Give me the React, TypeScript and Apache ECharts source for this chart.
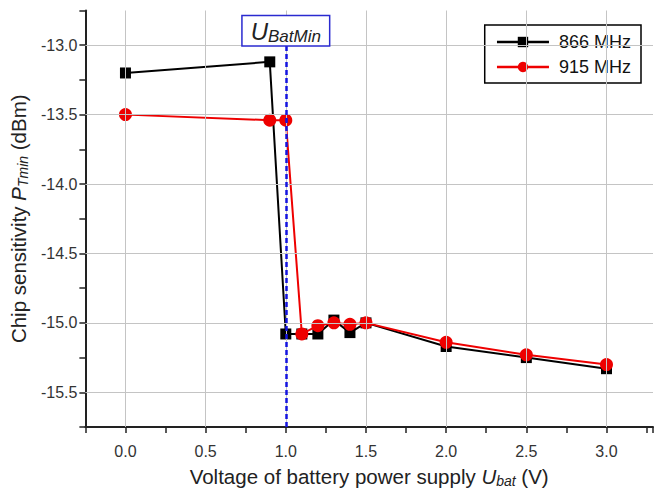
import React, { useEffect, useRef } from "react";
import * as echarts from "echarts";

const voltages866 = [0.0, 0.9, 1.0, 1.1, 1.2, 1.3, 1.4, 1.5, 2.0, 2.5, 3.0];
const sens866 = [-13.2, -13.12, -15.08, -15.08, -15.08, -14.98, -15.07, -15.0, -15.17, -15.25, -15.33];
const voltages915 = [0.0, 0.9, 1.0, 1.1, 1.2, 1.3, 1.4, 1.5, 2.0, 2.5, 3.0];
const sens915 = [-13.5, -13.54, -13.54, -15.08, -15.02, -15.0, -15.01, -15.0, -15.14, -15.23, -15.3];
const xGridTicks = [0.0, 0.5, 1.0, 1.5, 2.0, 2.5, 3.0];
const yGridTicks = [-13.0, -13.5, -14.0, -14.5, -15.0, -15.5];
const uBatMin = 1.0;
const seriesNames = ["866 MHz", "915 MHz"];

const FONT = "'Liberation Sans', Arial, sans-serif";

export default function App() {
  const ref = useRef<HTMLDivElement>(null);
  useEffect(() => {
    document.body.style.margin = "0";
    if (!ref.current) return;
    const chart = echarts.init(ref.current, null, { renderer: "svg" });
    const xMin = -0.25, xMax = 3.29, yMin = -15.75, yMax = -12.75;
    const isMajor = (v: number) => Math.abs(v * 2 - Math.round(v * 2)) < 1e-6;
    const titleRich = {
      i: { fontSize: 20.5, fontStyle: "italic", color: "#222", fontFamily: FONT },
      s: { fontSize: 14, fontStyle: "italic", color: "#222", fontFamily: FONT, verticalAlign: "bottom", padding: [9, 0, 0, 0] },
    };
    chart.setOption({
      animation: false,
      textStyle: { fontFamily: FONT },
      grid: { left: 82, right: 0, top: 10.5, bottom: 57.5, containLabel: false },
      legend: {
        data: seriesNames,
        orient: "vertical",
        right: 15,
        top: 25,
        borderColor: "#000",
        borderWidth: 1.5,
        padding: [8, 10, 7, 11],
        itemGap: 7,
        itemWidth: 52,
        itemHeight: 13,
        lineStyle: { width: 2.5 },
        textStyle: { fontSize: 18, color: "#111", fontFamily: FONT, padding: [0, 0, 0, 5] },
      },
      xAxis: {
        type: "value",
        min: xMin,
        max: xMax,
        interval: 0.25,
        axisLine: { show: true, onZero: false, lineStyle: { color: "#222", width: 2 } },
        axisTick: { show: true, inside: false, length: 6, lineStyle: { color: "#222", width: 1.5 } },
        splitLine: { show: false },
        axisLabel: {
          margin: 16,
          fontSize: 16,
          color: "#333",
          fontFamily: FONT,
          formatter: (v: number) => (isMajor(v) && v >= 0 && v <= 3.0001 ? v.toFixed(1) : ""),
        },
        name: "Voltage of battery power supply {i|U}{s|bat} (V)",
        nameLocation: "middle",
        nameGap: 38,
        nameTextStyle: { fontSize: 20.5, color: "#222", fontFamily: FONT, rich: titleRich },
      },
      yAxis: {
        type: "value",
        min: yMin,
        max: yMax,
        interval: 0.25,
        axisLine: { show: true, onZero: false, lineStyle: { color: "#222", width: 2 } },
        axisTick: { show: true, inside: false, length: 6, lineStyle: { color: "#222", width: 1.5 } },
        splitLine: { show: false },
        axisLabel: {
          margin: 8,
          fontSize: 16,
          color: "#333",
          fontFamily: FONT,
          formatter: (v: number) => (isMajor(v) && v <= -12.99 && v >= -15.51 ? v.toFixed(1) : ""),
        },
        name: "Chip sensitivity {i|P}{s|Tmin} (dBm)",
        nameLocation: "middle",
        nameGap: 52,
        nameRotate: 90,
        nameTextStyle: { fontSize: 20.5, color: "#222", fontFamily: FONT, rich: titleRich },
      },
      series: [
        {
          name: "grid",
          type: "line",
          data: [],
          z: 1,
          silent: true,
          markLine: {
            silent: true,
            symbol: "none",
            label: { show: false },
            lineStyle: { type: "solid", color: "#c4c4c4", width: 1 },
            data: [
              ...xGridTicks.map((v) => ({ xAxis: v })),
              ...yGridTicks.map((v) => ({ yAxis: v })),
            ],
          },
        },
        {
          name: seriesNames[0],
          type: "line",
          z: 3,
          data: voltages866.map((x, i) => [x, sens866[i]]),
          symbol: "rect",
          symbolSize: 11,
          itemStyle: { color: "#000" },
          lineStyle: { color: "#000", width: 2 },
        },
        {
          name: seriesNames[1],
          type: "line",
          z: 4,
          data: voltages915.map((x, i) => [x, sens915[i]]),
          symbol: "circle",
          symbolSize: 13,
          itemStyle: { color: "#ee0000" },
          lineStyle: { color: "#ee0000", width: 2 },
        },
        {
          name: "ubatmin",
          type: "line",
          data: [],
          z: 5,
          silent: true,
          markLine: {
            silent: true,
            symbol: "none",
            lineStyle: { type: [5, 3], color: "#1414e0", width: 2.5 },
            label: {
              show: true,
              position: "end",
              distance: 0,
              formatter: "{u|U}{s|BatMin}",
              backgroundColor: "#fff",
              borderColor: "#2a2ad0",
              borderWidth: 1.5,
              padding: [1, 8, 0, 8],
              rich: {
                u: { fontSize: 24, fontStyle: "italic", color: "#222", fontFamily: FONT, lineHeight: 28 },
                s: { fontSize: 17, fontStyle: "italic", color: "#222", fontFamily: FONT, verticalAlign: "bottom", padding: [11, 0, 0, 0] },
              },
            },
            data: [[{ coord: [uBatMin, yMin] }, { coord: [uBatMin, -13.0] }]],
          },
        },
      ],
    });
    return () => chart.dispose();
  }, []);
  return <div ref={ref} style={{ width: 656, height: 493 }} />;
}
